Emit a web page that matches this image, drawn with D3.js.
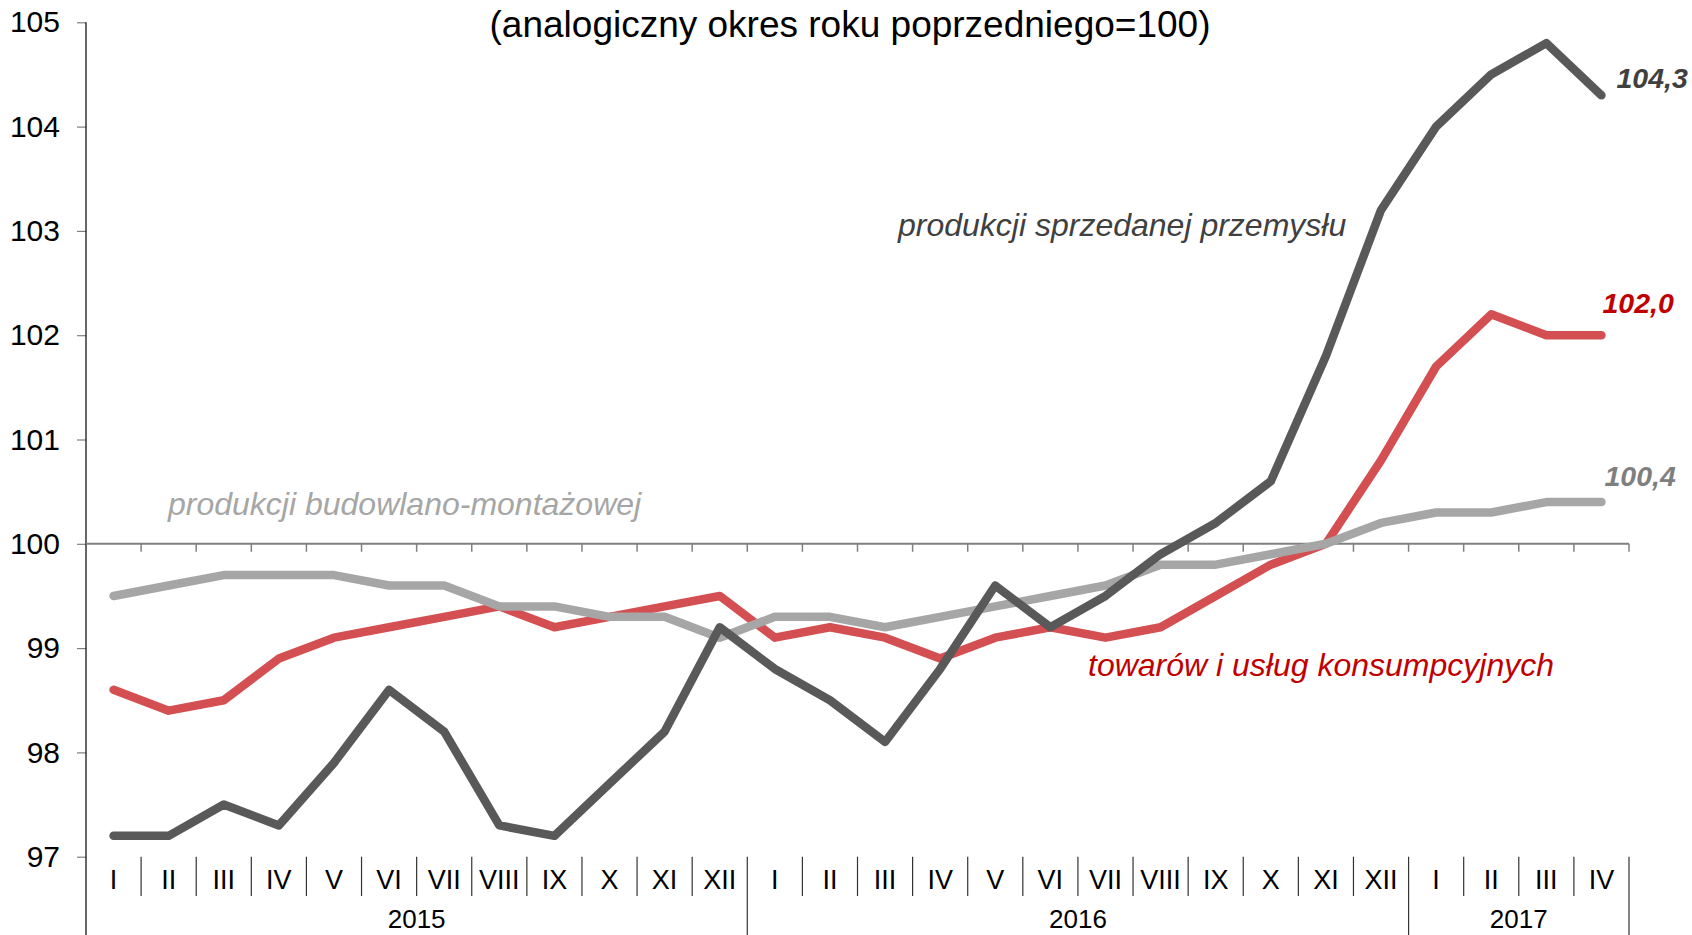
<!DOCTYPE html>
<html>
<head>
<meta charset="utf-8">
<script src="https://cdn.jsdelivr.net/npm/d3@7"></script>
<style>
  html, body { margin: 0; padding: 0; background: #fff; }
  svg { display: block; font-family: "Liberation Sans", Arial, sans-serif; }
</style>
</head>
<body>
<svg id="chart" width="1692" height="935"></svg>
<script>
// ---- data ----
const months = ["I","II","III","IV","V","VI","VII","VIII","IX","X","XI","XII",
                "I","II","III","IV","V","VI","VII","VIII","IX","X","XI","XII",
                "I","II","III","IV"];
const years = [
  { label: "2015", count: 12 },
  { label: "2016", count: 12 },
  { label: "2017", count: 4 }
];
const yTicks = [97, 98, 99, 100, 101, 102, 103, 104, 105];

const industry = [97.2, 97.2, 97.5, 97.3, 97.9, 98.6, 98.2, 97.3, 97.2, 97.7, 98.2, 99.2,
                  98.8, 98.5, 98.1, 98.8, 99.6, 99.2, 99.5, 99.9, 100.2, 100.6, 101.8, 103.2,
                  104.0, 104.5, 104.8, 104.3];
const consumer = [98.6, 98.4, 98.5, 98.9, 99.1, 99.2, 99.3, 99.4, 99.2, 99.3, 99.4, 99.5,
                  99.1, 99.2, 99.1, 98.9, 99.1, 99.2, 99.1, 99.2, 99.5, 99.8, 100.0, 100.8,
                  101.7, 102.2, 102.0, 102.0];
const construction = [99.5, 99.6, 99.7, 99.7, 99.7, 99.6, 99.6, 99.4, 99.4, 99.3, 99.3, 99.1,
                      99.3, 99.3, 99.2, 99.3, 99.4, 99.5, 99.6, 99.8, 99.8, 99.9, 100.0, 100.2,
                      100.3, 100.3, 100.4, 100.4];

const title = "(analogiczny okres roku poprzedniego=100)";
const lblIndustry = "produkcji sprzedanej przemysłu";
const lblConsumer = "towarów i usług konsumpcyjnych";
const lblConstruction = "produkcji budowlano-montażowej";
const endIndustry = "104,3";
const endConsumer = "102,0";
const endConstruction = "100,4";

// ---- layout ----
const svg = d3.select("#chart");
const pL = 86, pR = 1629, pT = 22.3, pB = 856.7, H = 935;

const idx = d3.range(months.length);
const x = d3.scaleBand().domain(idx).range([pL, pR]).padding(0);
const y = d3.scaleLinear().domain([97, 105]).range([pB, pT]);
const cx = i => x(i) + x.bandwidth() / 2;
const bx = i => i >= months.length ? pR : x(i);

// title
svg.append("text")
  .attr("x", 850).attr("y", 37)
  .attr("text-anchor", "middle")
  .attr("font-size", 37).attr("fill", "#000")
  .text(title);

// y axis
const yAxis = d3.axisLeft(y).tickValues(yTicks).tickSize(9).tickPadding(17).tickFormat(d3.format("d"));
const gy = svg.append("g").attr("transform", `translate(${pL},0)`).call(yAxis);
gy.select(".domain").remove();
gy.selectAll(".tick line").attr("stroke", "#808080").attr("stroke-width", 1.2);
gy.selectAll(".tick text").attr("font-size", 30).attr("fill", "#000")
  .attr("font-family", "'Liberation Sans', Arial, sans-serif");
svg.append("line")
  .attr("x1", pL).attr("x2", pL).attr("y1", pT).attr("y2", H)
  .attr("stroke", "#000").attr("stroke-width", 1.2);

// horizontal axis at 100 with ticks at category boundaries
const y100 = y(100);
svg.append("line")
  .attr("x1", pL).attr("x2", pR).attr("y1", y100).attr("y2", y100)
  .attr("stroke", "#808080").attr("stroke-width", 2);
svg.append("g").selectAll("line").data(d3.range(1, months.length + 1)).join("line")
  .attr("x1", i => bx(i)).attr("x2", i => bx(i))
  .attr("y1", y100).attr("y2", y100 + 8)
  .attr("stroke", "#808080").attr("stroke-width", 1.5);

// category separators in label area
let cum = 0;
const yearBounds = new Set();
years.forEach(yr => { cum += yr.count; yearBounds.add(cum); });
svg.append("g").selectAll("line").data(d3.range(1, months.length + 1)).join("line")
  .attr("x1", i => bx(i)).attr("x2", i => bx(i))
  .attr("y1", pB)
  .attr("y2", i => yearBounds.has(i) ? H : 896)
  .attr("stroke", "#333").attr("stroke-width", 1.2);

// month labels
svg.append("g").selectAll("text").data(idx).join("text")
  .attr("x", i => cx(i)).attr("y", 889)
  .attr("text-anchor", "middle").attr("font-size", 27).attr("fill", "#000")
  .text(i => months[i]);

// year labels
cum = 0;
years.forEach(yr => {
  const start = bx(cum);
  const end = bx(cum + yr.count);
  svg.append("text")
    .attr("x", (start + end) / 2).attr("y", 928)
    .attr("text-anchor", "middle").attr("font-size", 26).attr("fill", "#000")
    .text(yr.label);
  cum += yr.count;
});

// lines
const line = d3.line().x((d, i) => cx(i)).y(d => y(d));
const series = [
  { data: consumer, color: "#D34F51" },
  { data: construction, color: "#A6A6A6" },
  { data: industry, color: "#595959" }
];
series.forEach(s => {
  svg.append("path")
    .attr("d", line(s.data))
    .attr("fill", "none")
    .attr("stroke", s.color)
    .attr("stroke-width", 8.5)
    .attr("stroke-linecap", "round")
    .attr("stroke-linejoin", "round");
});

// series labels
const lab = (txt, xx, yy, color) => svg.append("text")
  .attr("x", xx).attr("y", yy)
  .attr("font-size", 32).attr("font-style", "italic").attr("fill", color)
  .text(txt);
lab(lblIndustry, 898, 236, "#404040");
lab(lblConsumer, 1088, 676, "#C00000");
lab(lblConstruction, 168, 515, "#A6A6A6");

// end value labels
const last = months.length - 1;
const endLab = (txt, dx, yy, color) => svg.append("text")
  .attr("x", cx(last) + dx).attr("y", yy)
  .attr("font-size", 28.5).attr("font-style", "italic").attr("font-weight", "bold")
  .attr("fill", color).text(txt);
endLab(endIndustry, 15, y(industry[last]) - 7, "#404040");
endLab(endConsumer, 1, y(consumer[last]) - 22, "#C00000");
endLab(endConstruction, 3, y(construction[last]) - 16, "#7F7F7F");
</script>
</body>
</html>
